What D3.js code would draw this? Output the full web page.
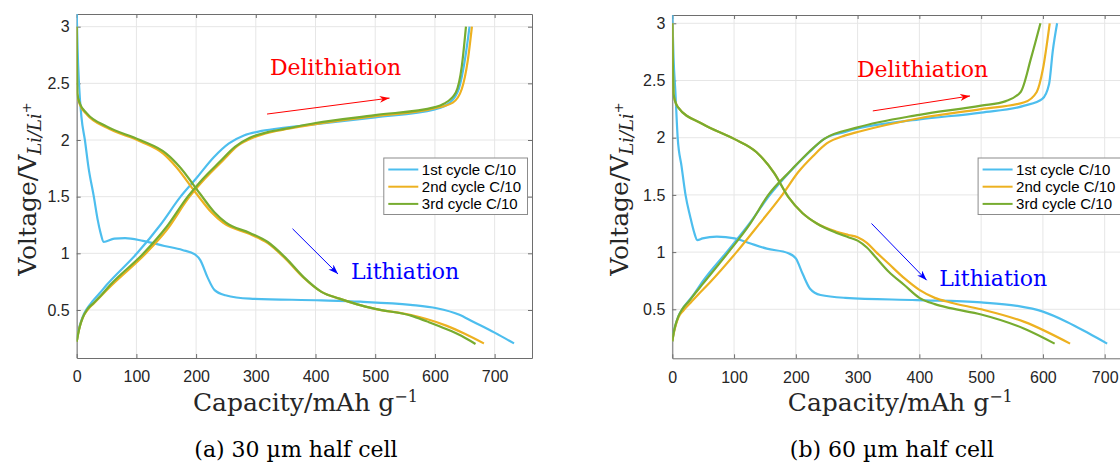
<!DOCTYPE html>
<html>
<head>
<meta charset="utf-8">
<script src="https://cdn.jsdelivr.net/npm/d3@7"></script>
<style>
  body { margin: 0; background: #fff; }
  .latex { font-family: "DejaVu Serif", "Liberation Serif", serif; }
</style>
</head>
<body>
<svg width="1120" height="464"></svg>
<script>
var width = 1120,
    height = 464

// tick values
var xTicks = [0, 100, 200, 300, 400, 500, 600, 700];
var yTicks = [0.5, 1, 1.5, 2, 2.5, 3];
var yTickLabels = ["0.5", "1", "1.5", "2", "2.5", "3"];

var seriesNames = ["1st cycle C/10", "2nd cycle C/10", "3rd cycle C/10"];
var seriesColors = ["#4DBEEE", "#EDB120", "#77AC30"];

// (a) 30 um half cell: [capacity mAh/g, voltage V]
var a1Lith = [[0, 3.12], [1.5, 2.8], [3.8, 2.5], [8, 2.2], [13.7, 2.0], [20, 1.75], [28.7, 1.5], [35, 1.3], [40, 1.18], [45, 1.1],
    [63, 1.13], [81, 1.135], [111, 1.11], [147, 1.065], [177, 1.03], [198, 0.99], [207, 0.94], [219, 0.79], [231, 0.675],
    [249, 0.63], [290, 0.60], [410, 0.585], [475, 0.573], [559, 0.545], [603, 0.515], [640, 0.46], [664, 0.396], [700, 0.3], [732.5, 0.205]];
var a2Lith = [[0, 3.0], [0.5, 2.6], [1, 2.41], [5.5, 2.31], [17, 2.225], [50, 2.11], [106, 1.99], [145, 1.88], [167, 1.76], [200, 1.53],
    [226, 1.36], [245, 1.27], [290, 1.17], [320, 1.09], [350, 0.95], [380, 0.785], [410, 0.66], [440, 0.6], [470, 0.55],
    [500, 0.51], [560, 0.455], [586, 0.42], [620, 0.36], [650, 0.29], [682, 0.205]];
var a3Lith = [[0, 3.0], [0.5, 2.6], [1, 2.41], [5.5, 2.32], [17, 2.235], [50, 2.12], [106, 2.0], [150, 1.88], [173, 1.76], [206, 1.53],
    [231, 1.36], [250, 1.27], [290, 1.18], [320, 1.1], [350, 0.96], [380, 0.79], [410, 0.66], [440, 0.6], [470, 0.55],
    [500, 0.51], [560, 0.45], [586, 0.40], [620, 0.33], [645, 0.27], [668, 0.2]];
var a1Deli = [[0, 0.22], [2, 0.29], [5, 0.36], [10, 0.44], [17, 0.51], [27, 0.58], [38, 0.645], [50, 0.72], [101, 1.0], [140, 1.25],
    [174, 1.5], [200, 1.66], [230, 1.85], [255, 1.97], [280, 2.04], [310, 2.08], [350, 2.11], [400, 2.14], [500, 2.2], [600, 2.27],
    [625, 2.33], [640, 2.45], [650, 2.7], [658, 3.0]];
var a2Deli = [[0, 0.22], [2, 0.28], [5, 0.35], [10, 0.43], [18, 0.5], [29, 0.56], [42, 0.63], [59, 0.72], [116, 1.0], [150, 1.2],
    [189, 1.5], [215, 1.66], [245, 1.82], [270, 1.95], [295, 2.02], [325, 2.07], [355, 2.1], [400, 2.14], [500, 2.21], [600, 2.28],
    [630, 2.33], [645, 2.45], [655, 2.7], [662, 3.0]];
var a3Deli = [[0, 0.22], [2, 0.28], [5, 0.35], [10, 0.43], [17, 0.5], [28, 0.56], [41, 0.63], [56, 0.72], [112, 1.0], [150, 1.23],
    [186, 1.5], [210, 1.65], [240, 1.81], [265, 1.94], [290, 2.02], [320, 2.07], [350, 2.1], [400, 2.15], [500, 2.22], [600, 2.29],
    [615, 2.32], [635, 2.42], [645, 2.65], [652, 3.0]];

// (b) 60 um half cell
var b1Lith = [[0, 3.08], [2, 2.7], [5, 2.4], [8.7, 2.0], [15, 1.75], [21.4, 1.5], [29, 1.31], [35, 1.18], [40.5, 1.105], [49, 1.12],
    [72, 1.135], [101, 1.12], [124, 1.08], [153, 1.03], [188, 0.99], [200, 0.945], [211, 0.81], [223, 0.68], [240, 0.625],
    [280, 0.6], [396, 0.58], [500, 0.56], [558, 0.53], [600, 0.48], [639, 0.39], [674, 0.29], [704, 0.2]];
var b2Lith = [[0, 3.0], [1, 2.6], [2, 2.38], [8.7, 2.27], [49, 2.12], [100, 1.99], [136, 1.875], [165, 1.69], [188, 1.48], [211, 1.34],
    [234, 1.25], [265, 1.18], [285, 1.15], [300, 1.13], [315, 1.08], [330, 1.0], [350, 0.9], [376, 0.77], [400, 0.67], [425, 0.6],
    [450, 0.56], [500, 0.5], [570, 0.39], [644, 0.2]];
var b3Lith = [[0, 3.0], [1, 2.6], [2, 2.38], [8.7, 2.27], [49, 2.12], [100, 1.99], [136, 1.875], [165, 1.69], [188, 1.48], [211, 1.34],
    [234, 1.25], [265, 1.17], [285, 1.13], [300, 1.1], [315, 1.04], [330, 0.95], [350, 0.83], [376, 0.71], [400, 0.6], [425, 0.545],
    [450, 0.51], [500, 0.455], [570, 0.33], [619, 0.2]];
var b1Deli = [[0, 0.22], [2, 0.29], [5, 0.36], [10, 0.44], [16, 0.5], [26, 0.57], [36, 0.64], [50, 0.75], [88, 1.0], [125, 1.25],
    [158, 1.5], [190, 1.7], [222, 1.875], [246, 1.99], [280, 2.05], [300, 2.08], [400, 2.16], [500, 2.22], [570, 2.28], [599, 2.34],
    [610, 2.47], [616, 2.76], [623, 3.0]];
var b2Deli = [[0, 0.22], [2, 0.28], [5, 0.35], [10, 0.43], [18, 0.49], [30, 0.56], [42, 0.63], [60, 0.73], [104, 1.0], [140, 1.24],
    [178, 1.5], [204, 1.7], [228, 1.84], [250, 1.95], [280, 2.02], [300, 2.05], [400, 2.17], [500, 2.25], [570, 2.31], [590, 2.4],
    [600, 2.6], [611, 3.0]];
var b3Deli = [[0, 0.22], [2, 0.29], [5, 0.36], [10, 0.44], [16, 0.5], [27, 0.57], [37, 0.64], [49, 0.72], [91, 1.0], [125, 1.24],
    [155.5, 1.5], [193, 1.72], [222, 1.88], [246, 1.99], [300, 2.09], [400, 2.2], [500, 2.28], [540, 2.32], [564, 2.4], [581, 2.7], [596, 3.0]];

var panels = [
    {
        id: "a", caption: "(a) 30 µm half cell", captionX: 296,
        left: 76.7, right: 532, top: 14, bottom: 358, xMax: 762.6, yMin: 0.0763, yMax: 3.112,
        ylabelX: 36,
        curves: [[a1Lith, a1Deli], [a2Lith, a2Deli], [a3Lith, a3Deli]],
        deliText: [323.6, 2.574], deliArrow: [[318.8, 2.229], [524, 2.37]],
        lithText: [459.6, 0.773], lithArrow: [[361.5, 1.217], [437.7, 0.817]]
    },
    {
        id: "b", caption: "(b) 60 µm half cell", captionX: 892,
        left: 672.3, right: 1126.3, top: 15, bottom: 358.3, xMax: 735, yMin: 0.0717, yMax: 3.0726,
        ylabelX: 628,
        curves: [[b1Lith, b1Deli], [b2Lith, b2Deli], [b3Lith, b3Deli]],
        deliText: [298.9, 2.529], deliArrow: [[324.6, 2.234], [482, 2.365]],
        lithText: [432, 0.706], lithArrow: [[322.5, 1.25], [411.8, 0.754]]
    }
];

var svg = d3.select("svg")
    .attr("width", width)
    .attr("height", height);

var defs = svg.append("defs");
[["red", "#ff0000"], ["blue", "#0000ff"]].forEach(function (m) {
    defs.append("marker")
        .attr("id", "head-" + m[0])
        .attr("markerUnits", "userSpaceOnUse")
        .attr("markerWidth", 12).attr("markerHeight", 8)
        .attr("refX", 10).attr("refY", 3.5)
        .attr("orient", "auto")
        .append("path")
        .attr("d", "M0,0 L10,3.5 L0,7 L3,3.5 Z")
        .attr("fill", m[1]);
});

function drawPanel(p) {
    var x = d3.scaleLinear().domain([0, p.xMax]).range([p.left, p.right]);
    var y = d3.scaleLinear().domain([p.yMin, p.yMax]).range([p.bottom, p.top]);
    var w = p.right - p.left, h = p.bottom - p.top;

    var g = svg.append("g").attr("class", "panel-" + p.id);

    defs.append("clipPath").attr("id", "clip-" + p.id)
        .append("rect").attr("x", p.left).attr("y", p.top).attr("width", w).attr("height", h);

    // grid
    g.append("g").selectAll("line").data(xTicks).enter().append("line")
        .attr("x1", x).attr("x2", x).attr("y1", p.top).attr("y2", p.bottom)
        .attr("stroke", "#e6e6e6").attr("stroke-width", 1);
    g.append("g").selectAll("line").data(yTicks).enter().append("line")
        .attr("y1", y).attr("y2", y).attr("x1", p.left).attr("x2", p.right)
        .attr("stroke", "#e6e6e6").attr("stroke-width", 1);

    // axes with inward ticks
    var xAxis = g.append("g").attr("transform", "translate(0," + p.bottom + ")")
        .call(d3.axisBottom(x).tickValues(xTicks).tickSizeInner(-4).tickSizeOuter(0).tickPadding(13));
    var xTop = g.append("g").attr("transform", "translate(0," + p.top + ")")
        .call(d3.axisTop(x).tickValues(xTicks).tickSizeInner(-4).tickSizeOuter(0).tickFormat(""));
    var yAxis = g.append("g").attr("transform", "translate(" + p.left + ",0)")
        .call(d3.axisLeft(y).tickValues(yTicks).tickSizeInner(-4).tickSizeOuter(0).tickPadding(7)
            .tickFormat(function (d, i) { return yTickLabels[i]; }));
    var yRight = g.append("g").attr("transform", "translate(" + p.right + ",0)")
        .call(d3.axisRight(y).tickValues(yTicks).tickSizeInner(-4).tickSizeOuter(0).tickFormat(""));
    [xAxis, xTop, yAxis, yRight].forEach(function (a) {
        a.select(".domain").attr("stroke", "#6e6e6e");
        a.selectAll(".tick line").attr("stroke", "#6e6e6e");
        a.selectAll(".tick text")
            .style("font-family", "'Liberation Sans', Arial, Helvetica, sans-serif")
            .style("font-size", "16px")
            .style("fill", "#262626");
    });

    // curves
    var line = d3.line()
        .x(function (d) { return x(d[0]); })
        .y(function (d) { return y(d[1]); })
        .curve(d3.curveMonotoneX);
    var plot = g.append("g").attr("clip-path", "url(#clip-" + p.id + ")");
    p.curves.forEach(function (pair, i) {
        pair.forEach(function (data) {
            plot.append("path")
                .datum(data)
                .attr("d", line)
                .attr("fill", "none")
                .attr("stroke", seriesColors[i])
                .attr("stroke-width", 2.2)
                .attr("stroke-linejoin", "round");
        });
    });

    // annotations
    g.append("text").attr("class", "latex")
        .attr("x", x(p.deliText[0])).attr("y", y(p.deliText[1]))
        .attr("font-size", 22).attr("fill", "#ff0000")
        .text("Delithiation");
    g.append("text").attr("class", "latex")
        .attr("x", x(p.lithText[0])).attr("y", y(p.lithText[1]))
        .attr("font-size", 22).attr("fill", "#0000ff")
        .text("Lithiation");
    g.append("line")
        .attr("x1", x(p.deliArrow[0][0])).attr("y1", y(p.deliArrow[0][1]))
        .attr("x2", x(p.deliArrow[1][0])).attr("y2", y(p.deliArrow[1][1]))
        .attr("stroke", "#ff0000").attr("stroke-width", 1)
        .attr("marker-end", "url(#head-red)");
    g.append("line")
        .attr("x1", x(p.lithArrow[0][0])).attr("y1", y(p.lithArrow[0][1]))
        .attr("x2", x(p.lithArrow[1][0])).attr("y2", y(p.lithArrow[1][1]))
        .attr("stroke", "#0000ff").attr("stroke-width", 1)
        .attr("marker-end", "url(#head-blue)");

    // legend, anchored to the upper right of the axes
    var lg = g.append("g").attr("transform", "translate(" + (p.right - 148.7) + "," + 157.5 + ")");
    lg.append("rect")
        .attr("x", 0.5).attr("y", 0.5).attr("width", 143.7).attr("height", 56.5)
        .attr("fill", "#fff").attr("stroke", "#8c8c8c").attr("stroke-width", 1);
    seriesNames.forEach(function (name, i) {
        var ry = 12 + i * 17.2;
        lg.append("line")
            .attr("x1", 5).attr("x2", 35).attr("y1", ry).attr("y2", ry)
            .attr("stroke", seriesColors[i]).attr("stroke-width", 2);
        lg.append("text")
            .attr("x", 38.5).attr("y", ry)
            .attr("dy", "0.36em")
            .attr("font-family", "Liberation Sans, Arial, Helvetica, sans-serif")
            .attr("font-size", 15).attr("fill", "#000")
            .text(name);
    });

    // axis labels
    var xl = g.append("text").attr("class", "latex")
        .attr("x", (p.left + p.right) / 2 + 1).attr("y", 411)
        .attr("text-anchor", "middle").attr("font-size", 25).attr("fill", "#262626")
        .text("Capacity/mAh g");
    xl.append("tspan").attr("dy", -9).attr("font-size", 16).text("−1");

    var yl = g.append("text").attr("class", "latex")
        .attr("transform", "translate(" + p.ylabelX + ",189) rotate(-90)")
        .attr("text-anchor", "middle").attr("font-size", 25).attr("fill", "#262626")
        .text("Voltage/V");
    yl.append("tspan").attr("dy", 5).attr("font-size", 18).attr("font-style", "italic").text("Li/Li");
    yl.append("tspan").attr("dy", -10).attr("font-size", 13).text("+");

    // caption
    g.append("text").attr("class", "latex")
        .attr("x", p.captionX).attr("y", 457)
        .attr("text-anchor", "middle").attr("font-size", 22).attr("fill", "#000")
        .text(p.caption);
}

panels.forEach(drawPanel);
</script>
</body>
</html>
